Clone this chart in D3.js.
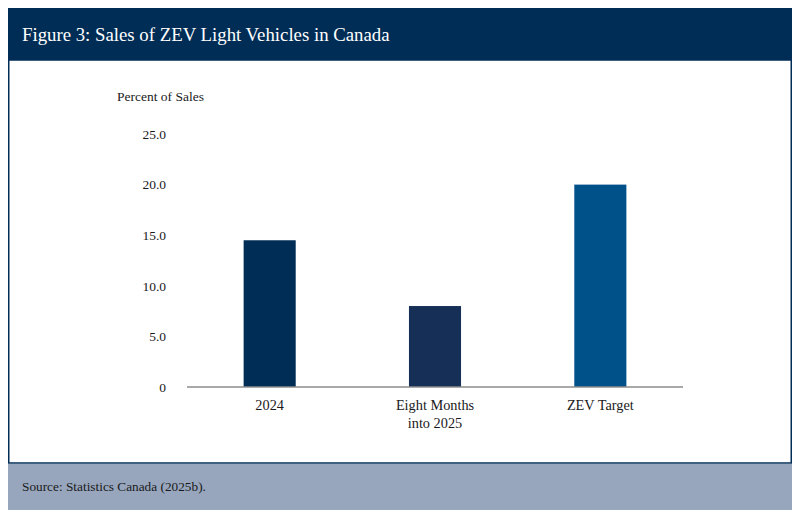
<!DOCTYPE html>
<html>
<head>
<meta charset="utf-8">
<script src="https://cdn.jsdelivr.net/npm/d3@7"></script>
<style>
  body { margin: 0; background: #fff; }
  svg { display: block; font-family: "Liberation Serif", "DejaVu Serif", serif; }
</style>
</head>
<body>
<svg id="chart" width="800" height="525"></svg>
<script>
// chart data
var categories = ['2024', 'Eight Months|into 2025', 'ZEV Target'];
var values = [14.5, 8.0, 20.0];
var barColors = ['#002d56', '#152f57', '#00508a'];
var yTicks = [0, 5, 10, 15, 20, 25];

var svg = d3.select('#chart');

// frame: title band, white panel, source band
svg.append('rect').attr('x', 8).attr('y', 8).attr('width', 784).attr('height', 53).attr('fill', '#002d56');
svg.append('rect').attr('x', 8.75).attr('y', 60).attr('width', 782.5).attr('height', 403)
  .attr('fill', '#fff').attr('stroke', '#002d56').attr('stroke-width', 1.5);
svg.append('rect').attr('x', 8).attr('y', 464).attr('width', 784).attr('height', 46).attr('fill', '#97a6bd');

svg.append('text').attr('x', 22).attr('y', 41)
  .attr('fill', '#fff').attr('font-size', 18.8)
  .text('Figure 3: Sales of ZEV Light Vehicles in Canada');

svg.append('text').attr('x', 22).attr('y', 491)
  .attr('fill', '#1a1a1a').attr('font-size', 13.3)
  .text('Source: Statistics Canada (2025b).');

// scales
var x = d3.scaleBand()
  .domain(categories)
  .range([187, 683])
  .paddingInner(0.685)
  .paddingOuter(0.3425);

var y = d3.scaleLinear().domain([0, 25]).range([387, 134]);

// y axis labels (no line)
var yAxis = svg.append('g').attr('transform', 'translate(166,0)')
  .call(d3.axisLeft(y).tickValues(yTicks).tickSize(0).tickPadding(0)
    .tickFormat(function(d) { return d === 0 ? '0' : d3.format('.1f')(d); }));
yAxis.select('.domain').remove();
yAxis.attr('font-family', null);
yAxis.selectAll('text').attr('font-size', 13.5).attr('fill', '#1a1a1a');

svg.append('text').attr('x', 117).attr('y', 101)
  .attr('font-size', 13.5).attr('fill', '#1a1a1a')
  .text('Percent of Sales');

// bars
svg.selectAll('rect.bar')
  .data(values)
  .enter()
  .append('rect')
  .attr('class', 'bar')
  .attr('x', function(d, i) { return x(categories[i]); })
  .attr('y', function(d) { return y(d); })
  .attr('width', x.bandwidth())
  .attr('height', function(d) { return y(0) - y(d); })
  .attr('fill', function(d, i) { return barColors[i]; });

// baseline
svg.append('line').attr('x1', 187).attr('x2', 683).attr('y1', y(0)).attr('y2', y(0))
  .attr('stroke', '#8c8c8c').attr('stroke-width', 1.5);

// category labels
var cat = svg.selectAll('text.cat')
  .data(categories)
  .enter()
  .append('text')
  .attr('class', 'cat')
  .attr('text-anchor', 'middle')
  .attr('font-size', 14.3)
  .attr('fill', '#1a1a1a')
  .attr('x', function(d) { return x(d) + x.bandwidth() / 2; })
  .attr('y', 410);
cat.each(function(d) {
  var t = d3.select(this);
  d.split('|').forEach(function(line, k) {
    t.append('tspan').attr('x', t.attr('x')).attr('dy', k === 0 ? 0 : 18).text(line);
  });
});
</script>
</body>
</html>
